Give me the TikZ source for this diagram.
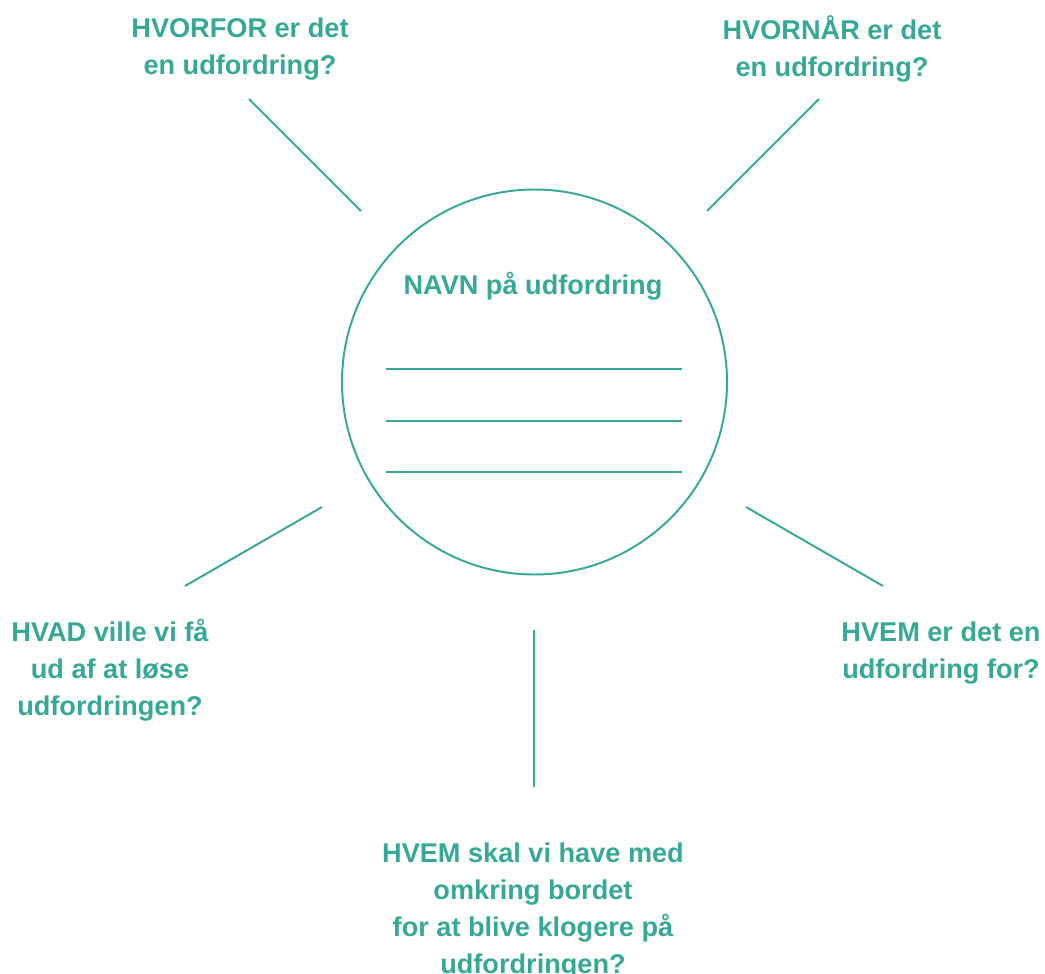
\documentclass[tikz,border=0pt]{standalone}
\usepackage{fontspec}
\setmainfont{Liberation Sans}
\usepackage{xcolor}
\usepackage{tikz}
\usetikzlibrary{positioning}
\definecolor{teal}{HTML}{35A995}
\tikzset{
  spm/.style={text=teal, font=\bfseries\fontsize{19.3}{26.4}\selectfont, align=center, inner sep=0pt},
  streg/.style={draw=teal, line width=1.4pt},
  linje/.style={draw=teal, line width=0.9pt}
}

\begin{document}
\begin{tikzpicture}[x=0.025cm, y=-0.025cm]
\useasboundingbox (0,0) rectangle (1045,973);
\node[draw=teal, line width=1.4pt, circle, minimum size=385*0.025cm, inner sep=0pt] (navn) at (534.5,382) {};
\node[spm] (titel) at (533,286) {NAVN på udfordring};
\draw[linje] (386,369) -- (682,369);
\draw[linje] (386,421) -- (682,421);
\draw[linje] (386,472) -- (682,472);
% spoergsmaal
\node[spm] (hvorfor) at (240,49) {HVORFOR er det\\en udfordring?};
\node[spm] (hvornaar) at (832,49) {HVORNÅR er det\\en udfordring?};
\node[spm] (hvad) at (110,670.5) {HVAD ville vi få\\ud af at løse\\udfordringen?};
\node[spm] (hvem) at (941,653) {HVEM er det en\\udfordring for?};
\node[spm] (hvemmed) at (533,911) {HVEM skal vi have med\\omkring bordet\\for at blive klogere på\\udfordringen?};
% streger
\coordinate (a1) at (249,99);  \coordinate (a2) at (361,211);
\coordinate (b1) at (819,99);  \coordinate (b2) at (707,211);
\coordinate (c1) at (322,507); \coordinate (c2) at (185,586);
\coordinate (d1) at (746,507); \coordinate (d2) at (883,586);
\coordinate (e1) at (534,630); \coordinate (e2) at (534,787);
\draw[streg] (a1) -- (a2);
\draw[streg] (b1) -- (b2);
\draw[streg] (c1) -- (c2);
\draw[streg] (d1) -- (d2);
\draw[streg] (e1) -- (e2);
\end{tikzpicture}
\end{document}
